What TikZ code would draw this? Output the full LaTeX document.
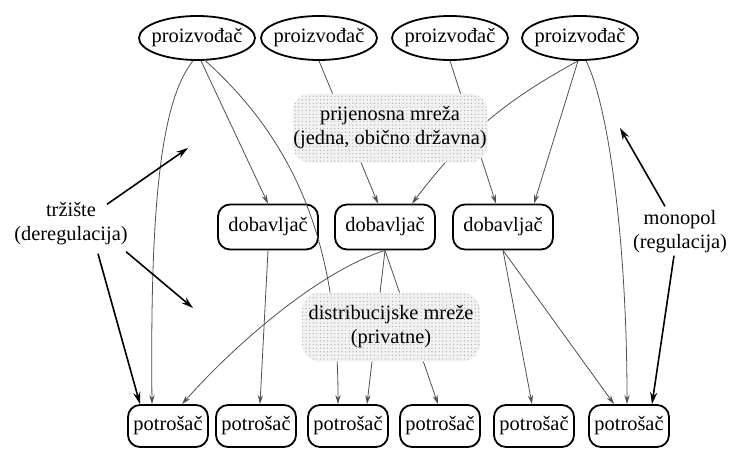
\documentclass[tikz,border=0pt]{standalone}
\usepackage{fontspec}
\setmainfont{Liberation Serif}
\usepackage{tikz}
\usetikzlibrary{shapes.geometric,arrows.meta,patterns.meta}
\definecolor{linkgray}{RGB}{80,80,80}
\definecolor{netgray}{RGB}{242,242,242}

\begin{document}
\begin{tikzpicture}[x=0.5pt,y=-0.5pt,
    font=\fontsize{10.2}{12}\selectfont,
    producer/.style={draw,line width=0.9pt,ellipse,minimum width=58pt,minimum height=22pt,inner xsep=-6pt,inner ysep=0pt},
    supplier/.style={draw,line width=0.9pt,rounded corners=6pt,minimum width=50pt,minimum height=22.5pt,inner sep=0pt},
    consumer/.style={draw,line width=0.9pt,rounded corners=6pt,minimum width=40pt,minimum height=21pt,inner sep=0pt},
    network/.style={preaction={fill=netgray},pattern={Dots[distance=1.8pt,radius=0.3pt]},pattern color=black!35,
        rounded corners=9pt,align=center,inner sep=0pt},
    link/.style={linkgray,line width=0.4pt,-{Stealth[length=4.5pt,width=2.6pt]}},
    force/.style={line width=0.8pt,-{Stealth[length=6pt,width=3.6pt]}}]
            \useasboundingbox (0,0) rectangle (737,449);

            % Producers
            \node[producer] (p1) at (197,38) {proizvođač};
            \node[producer] (p2) at (319,38) {proizvođač};
            \node[producer] (p3) at (450,38) {proizvođač};
            \node[producer] (p4) at (580,38) {proizvođač};

            % Suppliers
            \node[supplier] (d1) at (268,227) {dobavljač};
            \node[supplier] (d2) at (385,227) {dobavljač};
            \node[supplier] (d3) at (503,227) {dobavljač};

            % Consumers
            \node[consumer] (c1) at (168,426) {potrošač};
            \node[consumer] (c2) at (256,426) {potrošač};
            \node[consumer] (c3) at (348,426) {potrošač};
            \node[consumer] (c4) at (440,426) {potrošač};
            \node[consumer] (c5) at (534,426) {potrošač};
            \node[consumer] (c6) at (629,426) {potrošač};

            % Side labels
            \node[align=center,inner sep=0pt] (market) at (71,224) {tržište\\(deregulacija)};
            \node[align=center,inner sep=0pt] (monopoly) at (680,232) {monopol\\(regulacija)};
            \coordinate (mk1) at (188,148);
            \coordinate (mk2) at (193,308);
            \coordinate (mp1) at (620,128);

            % Links from producers
            \draw[link] (p1.-100) .. controls +(-32,40) and +(-2,-200) .. ([xshift=-8pt]c1.north);
            \draw[link] (p1.-80) -- (d1.north);
            \draw[link] (p1.-70) .. controls (305,150) and (338,260) .. ([xshift=-5pt]c3.north);
            \draw[link] (p2.south) -- ([xshift=-3.5pt]d2.north);
            \draw[link] (p3.south) -- ([xshift=-3.5pt]d3.north);
            \draw[link] (p4.-95) to[bend right=12] ([xshift=13.5pt]d2.north);
            \draw[link] (p4.-95) -- ([xshift=15.5pt]d3.north);
            \draw[link] (p4.-75) .. controls (610,110) and (627,250) .. ([xshift=-1pt]c6.north);

            % Links from suppliers
            \draw[link] (d1.south) -- ([xshift=2pt]c2.north);
            \draw[link] (d2.south) .. controls +(-63,20) and +(58,-65) .. ([xshift=7pt]c1.north);
            \draw[link] (d2.south) -- ([xshift=9.5pt]c3.north);
            \draw[link] (d2.south) -- ([xshift=-1pt]c4.north);
            \draw[link] (d3.south) -- ([xshift=-1pt]c5.north);
            \draw[link] (d3.south) -- ([xshift=-7.5pt]c6.north);

            % Networks
            \node[network,minimum width=97.5pt,minimum height=34.5pt] (trans) at (390,128)
                {prijenosna mreža\\(jedna, obično državna)};
            \node[network,minimum width=89pt,minimum height=34.5pt] (distr) at (391,327)
                {distribucijske mreže\\(privatne)};

            % Market and regulation
            \draw[force] ([xshift=18pt,yshift=-1pt]market.north) -- (mk1);
            \draw[force] ([xshift=-1pt,yshift=-3pt]market.south east) -- (mk2);
            \draw[force] ([xshift=13.5pt,yshift=-4pt]market.south) -- ([xshift=-14pt]c1.north);
            \draw[force] ([xshift=-7.5pt,yshift=2pt]monopoly.north) -- (mp1);
            \draw[force] ([xshift=-3pt,yshift=-1pt]monopoly.south) -- ([xshift=11.5pt]c6.north);

        \end{tikzpicture}
\end{document}
